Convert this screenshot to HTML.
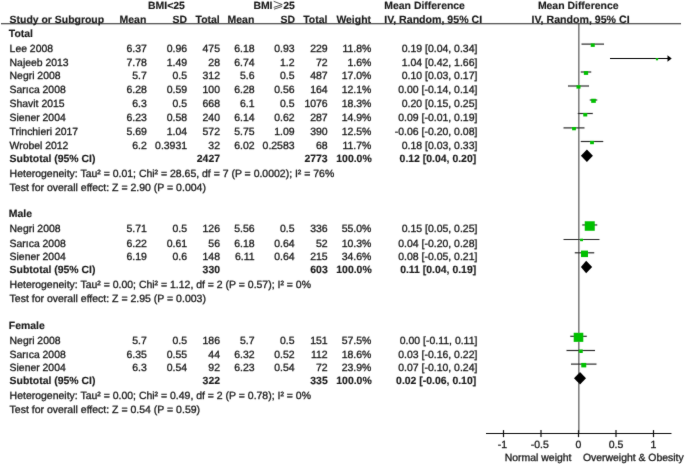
<!DOCTYPE html>
<html><head><meta charset="utf-8"><title>Forest plot</title>
<style>
html,body{margin:0;padding:0;background:#fff;}
body{width:685px;height:464px;overflow:hidden;}
svg{display:block;font-family:"Liberation Sans",sans-serif;font-size:10.47px;text-rendering:geometricPrecision;}
g.t text{fill:#1a1a1a;stroke:#1a1a1a;stroke-width:0.3px;}
g.t text[font-weight=bold]{fill:#1a1a1a;stroke:#1a1a1a;stroke-width:0.15px;}
</style></head><body>
<svg width="685" height="464" viewBox="0 0 685 464">
<defs><filter id="soft" x="0" y="0" width="685" height="464" filterUnits="userSpaceOnUse"><feConvolveMatrix order="3" kernelMatrix="0.01 0.06 0.01 0.06 0.72 0.06 0.01 0.06 0.01" edgeMode="none" preserveAlpha="false"/></filter></defs>
<rect width="685" height="464" fill="#fff"/>
<g filter="url(#soft)">
<line x1="578.80" x2="578.80" y1="23.4" y2="433.5" stroke="#808080" stroke-width="1.6"/>
<line x1="486" x2="671.5" y1="433.5" y2="433.5" stroke="#111" stroke-width="1.2"/>
<line x1="503.50" x2="503.50" y1="430.1" y2="437.1" stroke="#111" stroke-width="1.2"/>
<line x1="541.00" x2="541.00" y1="430.1" y2="437.1" stroke="#111" stroke-width="1.2"/>
<line x1="578.50" x2="578.50" y1="430.1" y2="437.1" stroke="#111" stroke-width="1.2"/>
<line x1="616.00" x2="616.00" y1="430.1" y2="437.1" stroke="#111" stroke-width="1.2"/>
<line x1="653.50" x2="653.50" y1="430.1" y2="437.1" stroke="#111" stroke-width="1.2"/>
<line x1="581.50" x2="604.00" y1="44.10" y2="44.10" stroke="#2a2a2a" stroke-width="1.2"/>
<rect x="590.75" y="43.40" width="4" height="3.50" fill="#00c000"/>
<line x1="610.00" x2="669.50" y1="58.50" y2="58.50" stroke="#000" stroke-width="1.1"/>
<path d="M671.70 58.50 L667.50 55.30 L667.50 61.70 Z" fill="#000"/>
<rect x="655.90" y="58.10" width="2.2" height="2.20" fill="#00c000"/>
<line x1="580.75" x2="591.25" y1="72.00" y2="72.00" stroke="#2a2a2a" stroke-width="1.2"/>
<rect x="583.85" y="71.08" width="4.3" height="3.80" fill="#00c000"/>
<line x1="568.00" x2="589.00" y1="86.00" y2="86.00" stroke="#2a2a2a" stroke-width="1.2"/>
<rect x="576.50" y="85.14" width="4" height="3.50" fill="#00c000"/>
<line x1="589.75" x2="597.25" y1="100.00" y2="100.00" stroke="#2a2a2a" stroke-width="1.2"/>
<rect x="591.20" y="98.75" width="4.6" height="4.10" fill="#00c000"/>
<line x1="577.75" x2="592.75" y1="113.50" y2="113.50" stroke="#2a2a2a" stroke-width="1.2"/>
<rect x="583.25" y="112.97" width="4" height="3.50" fill="#00c000"/>
<line x1="563.50" x2="584.50" y1="127.90" y2="127.90" stroke="#2a2a2a" stroke-width="1.2"/>
<rect x="572.10" y="126.98" width="3.8" height="3.30" fill="#00c000"/>
<line x1="580.75" x2="603.25" y1="141.50" y2="141.50" stroke="#2a2a2a" stroke-width="1.2"/>
<rect x="590.10" y="140.89" width="3.8" height="3.30" fill="#00c000"/>
<path d="M580.90 155.70 L586.90 149.50 L592.90 155.70 L586.90 161.90 Z" fill="#000"/>
<line x1="582.25" x2="597.25" y1="224.95" y2="224.95" stroke="#2a2a2a" stroke-width="1.2"/>
<rect x="584.75" y="221.27" width="10" height="9.50" fill="#00c000"/>
<line x1="563.50" x2="599.50" y1="239.50" y2="239.50" stroke="#2a2a2a" stroke-width="1.2"/>
<rect x="580.00" y="238.68" width="3" height="2.50" fill="#00c000"/>
<line x1="574.75" x2="594.25" y1="252.80" y2="252.80" stroke="#2a2a2a" stroke-width="1.2"/>
<rect x="581.00" y="250.59" width="7" height="6.50" fill="#00c000"/>
<path d="M580.90 267.01 L586.15 260.81 L592.15 267.01 L586.15 273.21 Z" fill="#000"/>
<line x1="570.25" x2="586.75" y1="336.30" y2="336.30" stroke="#2a2a2a" stroke-width="1.2"/>
<rect x="573.70" y="332.77" width="9.6" height="9.10" fill="#00c000"/>
<line x1="566.50" x2="595.00" y1="350.50" y2="350.50" stroke="#2a2a2a" stroke-width="1.2"/>
<rect x="578.75" y="349.49" width="4" height="3.50" fill="#00c000"/>
<line x1="571.00" x2="596.50" y1="364.10" y2="364.10" stroke="#2a2a2a" stroke-width="1.2"/>
<rect x="581.25" y="362.90" width="5" height="4.50" fill="#00c000"/>
<path d="M574.00 378.31 L580.00 372.11 L586.00 378.31 L580.00 384.51 Z" fill="#000"/>
</g>
<g class="t" filter="url(#soft)">
<text x="166.50" y="8.80" text-anchor="middle" font-weight="bold" font-size="10.45">BMI&lt;25</text>
<text x="253.40" y="8.80" font-weight="bold" font-size="10.45">BMI</text>
<text x="283.20" y="8.80" font-weight="bold" font-size="10.45">25</text>
<path d="M273.7 1.3 L282.2 4.6 L273.7 7.4 M282.2 6.4 L274.0 9.2" fill="none" stroke="#333" stroke-width="0.85" stroke-linejoin="miter"/>
<text x="384.30" y="8.80" font-weight="bold" font-size="10.45">Mean Difference</text>
<text x="578.20" y="8.80" text-anchor="middle" font-weight="bold" font-size="10.45">Mean Difference</text>
<text x="9.60" y="22.70" font-weight="bold" font-size="10.45">Study or Subgroup</text>
<text x="146.30" y="22.70" text-anchor="end" font-weight="bold" font-size="10.45">Mean</text>
<text x="187.10" y="22.70" text-anchor="end" font-weight="bold" font-size="10.45">SD</text>
<text x="219.70" y="22.70" text-anchor="end" font-weight="bold" font-size="10.45">Total</text>
<text x="254.30" y="22.70" text-anchor="end" font-weight="bold" font-size="10.45">Mean</text>
<text x="295.00" y="22.70" text-anchor="end" font-weight="bold" font-size="10.45">SD</text>
<text x="327.40" y="22.70" text-anchor="end" font-weight="bold" font-size="10.45">Total</text>
<text x="371.00" y="22.70" text-anchor="end" font-weight="bold" font-size="10.45">Weight</text>
<text x="384.20" y="22.70" font-weight="bold" font-size="10.6">IV, Random, 95% CI</text>
<text x="580.60" y="22.70" text-anchor="middle" font-weight="bold" font-size="10.62">IV, Random, 95% CI</text>
<line x1="1.0" x2="681" y1="23.75" y2="23.75" stroke="#222" stroke-width="1"/>
<text x="8.80" y="36.82" font-weight="bold" font-size="10.45">Total</text>
<text x="9.60" y="51.50" font-size="10.42">Lee 2008</text>
<text x="146.80" y="51.50" text-anchor="end">6.37</text>
<text x="187.10" y="51.50" text-anchor="end">0.96</text>
<text x="220.00" y="51.50" text-anchor="end">475</text>
<text x="254.60" y="51.50" text-anchor="end">6.18</text>
<text x="294.60" y="51.50" text-anchor="end">0.93</text>
<text x="327.70" y="51.50" text-anchor="end">229</text>
<text x="371.40" y="51.50" text-anchor="end">11.8%</text>
<text x="477.40" y="51.50" text-anchor="end">0.19 [0.04, 0.34]</text>
<text x="9.60" y="65.90" font-size="10.42">Najeeb 2013</text>
<text x="146.80" y="65.90" text-anchor="end">7.78</text>
<text x="187.10" y="65.90" text-anchor="end">1.49</text>
<text x="220.00" y="65.90" text-anchor="end">28</text>
<text x="254.60" y="65.90" text-anchor="end">6.74</text>
<text x="294.60" y="65.90" text-anchor="end">1.2</text>
<text x="327.70" y="65.90" text-anchor="end">72</text>
<text x="371.40" y="65.90" text-anchor="end">1.6%</text>
<text x="477.40" y="65.90" text-anchor="end">1.04 [0.42, 1.66]</text>
<text x="9.60" y="79.40" font-size="10.42">Negri 2008</text>
<text x="146.80" y="79.40" text-anchor="end">5.7</text>
<text x="187.10" y="79.40" text-anchor="end">0.5</text>
<text x="220.00" y="79.40" text-anchor="end">312</text>
<text x="254.60" y="79.40" text-anchor="end">5.6</text>
<text x="294.60" y="79.40" text-anchor="end">0.5</text>
<text x="327.70" y="79.40" text-anchor="end">487</text>
<text x="371.40" y="79.40" text-anchor="end">17.0%</text>
<text x="477.40" y="79.40" text-anchor="end">0.10 [0.03, 0.17]</text>
<text x="9.60" y="93.40" font-size="10.42">Sarıca 2008</text>
<text x="146.80" y="93.40" text-anchor="end">6.28</text>
<text x="187.10" y="93.40" text-anchor="end">0.59</text>
<text x="220.00" y="93.40" text-anchor="end">100</text>
<text x="254.60" y="93.40" text-anchor="end">6.28</text>
<text x="294.60" y="93.40" text-anchor="end">0.56</text>
<text x="327.70" y="93.40" text-anchor="end">164</text>
<text x="371.40" y="93.40" text-anchor="end">12.1%</text>
<text x="477.40" y="93.40" text-anchor="end">0.00 [-0.14, 0.14]</text>
<text x="9.60" y="107.40" font-size="10.42">Shavit 2015</text>
<text x="146.80" y="107.40" text-anchor="end">6.3</text>
<text x="187.10" y="107.40" text-anchor="end">0.5</text>
<text x="220.00" y="107.40" text-anchor="end">668</text>
<text x="254.60" y="107.40" text-anchor="end">6.1</text>
<text x="294.60" y="107.40" text-anchor="end">0.5</text>
<text x="327.70" y="107.40" text-anchor="end">1076</text>
<text x="371.40" y="107.40" text-anchor="end">18.3%</text>
<text x="477.40" y="107.40" text-anchor="end">0.20 [0.15, 0.25]</text>
<text x="9.60" y="120.90" font-size="10.42">Siener 2004</text>
<text x="146.80" y="120.90" text-anchor="end">6.23</text>
<text x="187.10" y="120.90" text-anchor="end">0.58</text>
<text x="220.00" y="120.90" text-anchor="end">240</text>
<text x="254.60" y="120.90" text-anchor="end">6.14</text>
<text x="294.60" y="120.90" text-anchor="end">0.62</text>
<text x="327.70" y="120.90" text-anchor="end">287</text>
<text x="371.40" y="120.90" text-anchor="end">14.9%</text>
<text x="477.40" y="120.90" text-anchor="end">0.09 [-0.01, 0.19]</text>
<text x="9.60" y="135.30" font-size="10.42">Trinchieri 2017</text>
<text x="146.80" y="135.30" text-anchor="end">5.69</text>
<text x="187.10" y="135.30" text-anchor="end">1.04</text>
<text x="220.00" y="135.30" text-anchor="end">572</text>
<text x="254.60" y="135.30" text-anchor="end">5.75</text>
<text x="294.60" y="135.30" text-anchor="end">1.09</text>
<text x="327.70" y="135.30" text-anchor="end">390</text>
<text x="371.40" y="135.30" text-anchor="end">12.5%</text>
<text x="477.40" y="135.30" text-anchor="end">-0.06 [-0.20, 0.08]</text>
<text x="9.60" y="148.90" font-size="10.42">Wrobel 2012</text>
<text x="146.80" y="148.90" text-anchor="end">6.2</text>
<text x="187.10" y="148.90" text-anchor="end">0.3931</text>
<text x="220.00" y="148.90" text-anchor="end">32</text>
<text x="254.60" y="148.90" text-anchor="end">6.02</text>
<text x="294.60" y="148.90" text-anchor="end">0.2583</text>
<text x="327.70" y="148.90" text-anchor="end">68</text>
<text x="371.40" y="148.90" text-anchor="end">11.7%</text>
<text x="477.40" y="148.90" text-anchor="end">0.18 [0.03, 0.33]</text>
<text x="9.60" y="161.76" font-weight="bold" font-size="10.45">Subtotal (95% CI)</text>
<text x="220.00" y="161.76" text-anchor="end" font-weight="bold" font-size="10.45">2427</text>
<text x="327.70" y="161.76" text-anchor="end" font-weight="bold" font-size="10.45">2773</text>
<text x="371.70" y="161.76" text-anchor="end" font-weight="bold" font-size="10.45">100.0%</text>
<text x="476.20" y="161.76" text-anchor="end" font-weight="bold" font-size="10.45">0.12 [0.04, 0.20]</text>
<text x="9.60" y="176.82" font-size="10.47">Heterogeneity: Tau² = 0.01; Chi² = 28.65, df = 7 (P = 0.0002); I² = 76%</text>
<text x="9.60" y="190.58" font-size="10.5">Test for overall effect: Z = 2.90 (P = 0.004)</text>
<text x="8.80" y="217.25" font-weight="bold" font-size="10.45">Male</text>
<text x="9.60" y="232.35" font-size="10.42">Negri 2008</text>
<text x="146.80" y="232.35" text-anchor="end">5.71</text>
<text x="187.10" y="232.35" text-anchor="end">0.5</text>
<text x="220.00" y="232.35" text-anchor="end">126</text>
<text x="254.60" y="232.35" text-anchor="end">5.56</text>
<text x="294.60" y="232.35" text-anchor="end">0.5</text>
<text x="327.70" y="232.35" text-anchor="end">336</text>
<text x="371.40" y="232.35" text-anchor="end">55.0%</text>
<text x="477.40" y="232.35" text-anchor="end">0.15 [0.05, 0.25]</text>
<text x="9.60" y="246.90" font-size="10.42">Sarıca 2008</text>
<text x="146.80" y="246.90" text-anchor="end">6.22</text>
<text x="187.10" y="246.90" text-anchor="end">0.61</text>
<text x="220.00" y="246.90" text-anchor="end">56</text>
<text x="254.60" y="246.90" text-anchor="end">6.18</text>
<text x="294.60" y="246.90" text-anchor="end">0.64</text>
<text x="327.70" y="246.90" text-anchor="end">52</text>
<text x="371.40" y="246.90" text-anchor="end">10.3%</text>
<text x="477.40" y="246.90" text-anchor="end">0.04 [-0.20, 0.28]</text>
<text x="9.60" y="260.20" font-size="10.42">Siener 2004</text>
<text x="146.80" y="260.20" text-anchor="end">6.19</text>
<text x="187.10" y="260.20" text-anchor="end">0.6</text>
<text x="220.00" y="260.20" text-anchor="end">148</text>
<text x="254.60" y="260.20" text-anchor="end">6.11</text>
<text x="294.60" y="260.20" text-anchor="end">0.64</text>
<text x="327.70" y="260.20" text-anchor="end">215</text>
<text x="371.40" y="260.20" text-anchor="end">34.6%</text>
<text x="477.40" y="260.20" text-anchor="end">0.08 [-0.05, 0.21]</text>
<text x="9.60" y="273.29" font-weight="bold" font-size="10.45">Subtotal (95% CI)</text>
<text x="220.00" y="273.29" text-anchor="end" font-weight="bold" font-size="10.45">330</text>
<text x="327.70" y="273.29" text-anchor="end" font-weight="bold" font-size="10.45">603</text>
<text x="371.70" y="273.29" text-anchor="end" font-weight="bold" font-size="10.45">100.0%</text>
<text x="476.20" y="273.29" text-anchor="end" font-weight="bold" font-size="10.45">0.11 [0.04, 0.19]</text>
<text x="9.60" y="288.35" font-size="10.47">Heterogeneity: Tau² = 0.00; Chi² = 1.12, df = 2 (P = 0.57); I² = 0%</text>
<text x="9.60" y="302.26" font-size="10.5">Test for overall effect: Z = 2.95 (P = 0.003)</text>
<text x="8.80" y="328.93" font-weight="bold" font-size="10.45">Female</text>
<text x="9.60" y="343.50" font-size="10.42">Negri 2008</text>
<text x="146.80" y="343.50" text-anchor="end">5.7</text>
<text x="187.10" y="343.50" text-anchor="end">0.5</text>
<text x="220.00" y="343.50" text-anchor="end">186</text>
<text x="254.60" y="343.50" text-anchor="end">5.7</text>
<text x="294.60" y="343.50" text-anchor="end">0.5</text>
<text x="327.70" y="343.50" text-anchor="end">151</text>
<text x="371.40" y="343.50" text-anchor="end">57.5%</text>
<text x="477.40" y="343.50" text-anchor="end">0.00 [-0.11, 0.11]</text>
<text x="9.60" y="357.50" font-size="10.42">Sarıca 2008</text>
<text x="146.80" y="357.50" text-anchor="end">6.35</text>
<text x="187.10" y="357.50" text-anchor="end">0.55</text>
<text x="220.00" y="357.50" text-anchor="end">44</text>
<text x="254.60" y="357.50" text-anchor="end">6.32</text>
<text x="294.60" y="357.50" text-anchor="end">0.52</text>
<text x="327.70" y="357.50" text-anchor="end">112</text>
<text x="371.40" y="357.50" text-anchor="end">18.6%</text>
<text x="477.40" y="357.50" text-anchor="end">0.03 [-0.16, 0.22]</text>
<text x="9.60" y="371.30" font-size="10.42">Siener 2004</text>
<text x="146.80" y="371.30" text-anchor="end">6.3</text>
<text x="187.10" y="371.30" text-anchor="end">0.54</text>
<text x="220.00" y="371.30" text-anchor="end">92</text>
<text x="254.60" y="371.30" text-anchor="end">6.23</text>
<text x="294.60" y="371.30" text-anchor="end">0.54</text>
<text x="327.70" y="371.30" text-anchor="end">72</text>
<text x="371.40" y="371.30" text-anchor="end">23.9%</text>
<text x="477.40" y="371.30" text-anchor="end">0.07 [-0.10, 0.24]</text>
<text x="9.60" y="384.32" font-weight="bold" font-size="10.45">Subtotal (95% CI)</text>
<text x="220.00" y="384.32" text-anchor="end" font-weight="bold" font-size="10.45">322</text>
<text x="327.70" y="384.32" text-anchor="end" font-weight="bold" font-size="10.45">335</text>
<text x="371.70" y="384.32" text-anchor="end" font-weight="bold" font-size="10.45">100.0%</text>
<text x="476.20" y="384.32" text-anchor="end" font-weight="bold" font-size="10.45">0.02 [-0.06, 0.10]</text>
<text x="9.60" y="398.73" font-size="10.47">Heterogeneity: Tau² = 0.00; Chi² = 0.49, df = 2 (P = 0.78); I² = 0%</text>
<text x="9.60" y="412.64" font-size="10.5">Test for overall effect: Z = 0.54 (P = 0.59)</text>
<text x="502.30" y="447.85" text-anchor="middle">-1</text>
<text x="539.80" y="447.85" text-anchor="middle">-0.5</text>
<text x="578.50" y="447.85" text-anchor="middle">0</text>
<text x="616.00" y="447.85" text-anchor="middle">0.5</text>
<text x="653.50" y="447.85" text-anchor="middle">1</text>
<text x="571.50" y="460.90" text-anchor="end" font-size="10.45">Normal weight</text>
<text x="583.00" y="460.90" font-size="10.42">Overweight &amp; Obesity</text>
</g>
</svg>
</body></html>
